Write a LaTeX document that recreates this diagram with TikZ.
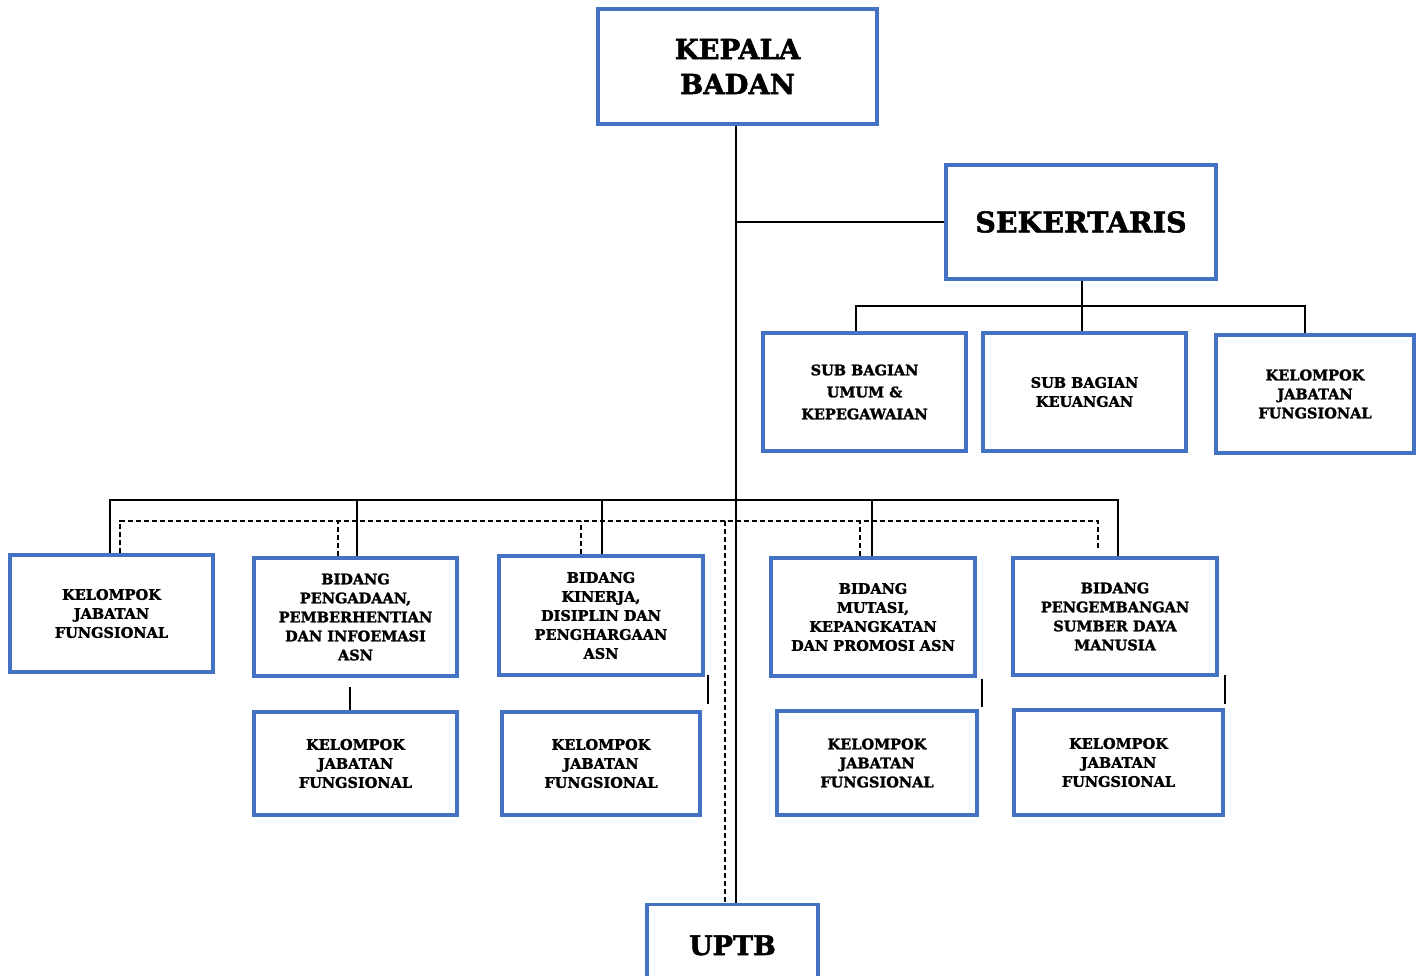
\documentclass[tikz,border=0pt]{standalone}
\usepackage{fontspec}
\setmainfont{DejaVu Serif}
\newfontfamily\orgfont{DejaVu Serif Bold}[FakeBold=1.8]
\definecolor{boxblue}{HTML}{4472C4}
\tikzset{
  orgbox/.style={draw=boxblue, line width=3.3pt, fill=white, align=center, inner sep=2pt,
    font=\orgfont\fontsize{14.5}{19}\selectfont},
  bigbox/.style={orgbox, font=\orgfont\fontsize{27.5}{35}\selectfont},
  link/.style={line width=2.1pt, black},
  dlink/.style={line width=1.8pt, black, dash pattern=on 5pt off 3pt},
}
\begin{document}
\begin{tikzpicture}[x=1pt,y=-1pt]
\useasboundingbox (0,0) rectangle (1421,975);
% nodes
\node[bigbox, minimum width=279pt, minimum height=115pt] (kb) at (737.5,66.5) {KEPALA\\BADAN};
\node[bigbox, minimum width=270pt, minimum height=114pt, font=\orgfont\fontsize{28.5}{35}\selectfont] (sek) at (1081,222) {SEKERTARIS};
\node[orgbox, minimum width=203pt, minimum height=118pt, font=\orgfont\fontsize{14.5}{22}\selectfont] (sb1) at (864.5,392) {SUB BAGIAN\\UMUM \&\\KEPEGAWAIAN};
\node[orgbox, minimum width=203pt, minimum height=118pt] (sb2) at (1084.5,392) {SUB BAGIAN\\KEUANGAN};
\node[orgbox, minimum width=198pt, minimum height=118pt] (sb3) at (1315,394) {KELOMPOK\\JABATAN\\FUNGSIONAL};
\node[orgbox, minimum width=203pt, minimum height=117pt] (k0) at (111.5,613.5) {KELOMPOK\\JABATAN\\FUNGSIONAL};
\node[orgbox, minimum width=203pt, minimum height=118pt] (b1) at (355.5,617) {BIDANG\\PENGADAAN,\\PEMBERHENTIAN\\DAN INFOEMASI\\ASN};
\node[orgbox, minimum width=204pt, minimum height=119pt] (b2) at (601,615.5) {BIDANG\\KINERJA,\\DISIPLIN DAN\\PENGHARGAAN\\ASN};
\node[orgbox, minimum width=204pt, minimum height=118pt] (b3) at (873,617) {BIDANG\\MUTASI,\\KEPANGKATAN\\DAN PROMOSI ASN};
\node[orgbox, minimum width=204pt, minimum height=117pt] (b4) at (1115,616.5) {BIDANG\\PENGEMBANGAN\\SUMBER DAYA\\MANUSIA};
\node[orgbox, minimum width=203pt, minimum height=103pt] (k1) at (355.5,763.5) {KELOMPOK\\JABATAN\\FUNGSIONAL};
\node[orgbox, minimum width=198pt, minimum height=103pt] (k2) at (601,763.5) {KELOMPOK\\JABATAN\\FUNGSIONAL};
\node[orgbox, minimum width=200pt, minimum height=104pt] (k3) at (877,763) {KELOMPOK\\JABATAN\\FUNGSIONAL};
\node[orgbox, minimum width=209pt, minimum height=105pt] (k4) at (1118.5,762.5) {KELOMPOK\\JABATAN\\FUNGSIONAL};
\node[bigbox, minimum width=171pt, minimum height=84pt, text depth=0pt, anchor=north, font=\orgfont\fontsize{27}{35}\selectfont] (uptb) at (732.5,903) {\raisebox{3pt}{UPTB}};
% bus coordinates
\coordinate (sbus) at (1082,306);
\coordinate (bbus) at (736,500);
\coordinate (dbus) at (725,521);
% main trunk
\draw[link] (kb.south -| bbus) -- (bbus |- uptb.north);
\draw[link] (bbus |- sek.west) -- (sek.west);
% sekertaris branch
\draw[link] (sek.south -| sbus) -- (sbus |- sb2.north);
\draw[link] ([xshift=-8.5pt]sb1.north) |- (sbus) -| ([xshift=-10pt]sb3.north);
% solid bus to bidang
\draw[link] ([xshift=-1.5pt]k0.north) |- (bbus) -| ([xshift=3pt]b4.north);
\draw[link] ([xshift=1.5pt]b1.north) -- ([xshift=1.5pt]b1.north |- bbus);
\draw[link] ([xshift=1pt]b2.north) -- ([xshift=1pt]b2.north |- bbus);
\draw[link] ([xshift=-1pt]b3.north) -- ([xshift=-1pt]b3.north |- bbus);
% dashed bus
\draw[dlink] ([xshift=8.5pt]k0.north) |- (dbus) -| ([xshift=-17pt,yshift=7pt]b4.north);
\draw[dlink] ([xshift=-17.5pt]b1.north) -- ([xshift=-17.5pt]b1.north |- dbus);
\draw[dlink] ([xshift=-20pt]b2.north) -- ([xshift=-20pt]b2.north |- dbus);
\draw[dlink] ([xshift=-13pt]b3.north) -- ([xshift=-13pt]b3.north |- dbus);
\draw[dlink] (dbus) -- (dbus |- uptb.north);
% short fragments
\draw[link] ([xshift=-5.5pt,yshift=-9pt]b1.south) -- ([xshift=-5.5pt]b1.south |- k1.north);
\draw[link] ([xshift=3pt,yshift=2pt]b2.south east) -- ++(0,29);
\draw[link] ([xshift=5pt,yshift=-1pt]b3.south east) -- ++(0,28);
\draw[link] ([xshift=6pt,yshift=2pt]b4.south east) -- ++(0,29);
\end{tikzpicture}
\end{document}
